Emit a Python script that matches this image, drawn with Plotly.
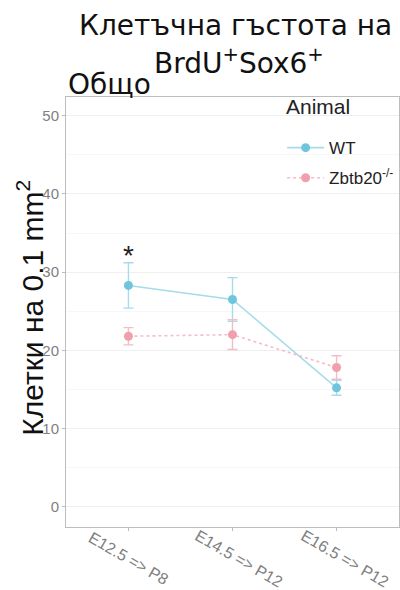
import plotly.graph_objects as go

categories = ["E12.5 => P8", "E14.5 => P12", "E16.5 => P12"]
wt_mean = [28.3, 26.5, 15.2]
wt_err = [2.9, 2.8, 0.95]
ko_mean = [21.8, 22.0, 17.8]
ko_err = [1.1, 1.9, 1.5]
y_ticks = [0, 10, 20, 30, 40, 50]
star_pos = (0, 32.1)

x = [1, 2, 3]
fig = go.Figure()

def add_series(mean, err, name, mcol, lcol, dash, grp):
    fig.add_trace(go.Scatter(
        x=x, y=mean, name=name, mode="lines+markers", legendgroup=grp,
        line=dict(color=lcol, width=1.6, dash=dash),
        marker=dict(color=mcol, size=9),
        error_y=dict(type="data", array=err, color=lcol, thickness=1.4, width=5),
    ))

add_series(wt_mean, wt_err, "WT", "#6fc6dc", "#a5dcea", "solid", "a")
add_series(ko_mean, ko_err, "Zbtb20<sup>-/-</sup>", "#f0a0ac", "#f5bcc5", "dot", "b")

fig.add_annotation(x=x[star_pos[0]], y=star_pos[1], text="*", showarrow=False,
                   font=dict(size=28, color="#222222", family="Liberation Sans"),
                   yanchor="middle")

title_font = dict(size=28, color="#111111", family="DejaVu Sans")
fig.add_annotation(xref="paper", yref="paper", x=0.509, y=1.167,
                   text="Клетъчна гъстота на", showarrow=False,
                   xanchor="center", yanchor="middle", font=title_font)
fig.add_annotation(xref="paper", yref="paper", x=0.52, y=1.083,
                   text="BrdU<sup>+</sup>Sox6<sup>+</sup>", showarrow=False,
                   xanchor="center", yanchor="middle", font=title_font)
fig.add_annotation(xref="paper", yref="paper", x=0.0, y=1.028,
                   text="Общо", showarrow=False, xanchor="left", yanchor="middle",
                   font=title_font)

fig.add_annotation(xref="paper", yref="paper", x=-0.108, y=0.51,
                   text="Клетки на 0.1 mm<sup>2</sup>", showarrow=False, textangle=-90,
                   xanchor="center", yanchor="middle",
                   font=dict(size=30, color="#111111", family="Liberation Sans"))

fig.add_annotation(xref="paper", yref="paper", x=0.655, y=0.977,
                   text="Animal", showarrow=False, xanchor="left", yanchor="middle",
                   font=dict(size=21, color="#222222", family="Liberation Sans"))

shifts = [0, 6, 8]
for xi, lab, s in zip(x, categories, shifts):
    fig.add_annotation(x=xi, xref="x", yref="paper", y=-0.073, text=lab,
                       showarrow=False, textangle=30, xanchor="center",
                       yanchor="middle", xshift=s,
                       font=dict(size=16, color="#808080", family="Liberation Sans"))

fig.update_layout(
    width=400, height=590,
    margin=dict(l=66, r=1, t=97, b=63, autoexpand=False),
    plot_bgcolor="white", paper_bgcolor="white",
    font=dict(family="Liberation Sans"),
    showlegend=True,
    legend=dict(
        x=0.649, y=0.923, xanchor="left", yanchor="top",
        bgcolor="rgba(0,0,0,0)", font=dict(size=17, color="#222222"),
        itemwidth=37, tracegroupgap=5,
    ),
    xaxis=dict(
        range=[0.4, 3.6], tickvals=x, ticktext=["", "", ""], automargin=False,
        showgrid=False, showline=True, linecolor="#bdbdbd", linewidth=1, mirror=True,
        ticks="outside", ticklen=3, tickcolor="#bdbdbd", zeroline=False,
    ),
    yaxis=dict(
        range=[-2.6, 52.4], tickvals=y_ticks, automargin=False,
        showgrid=True, gridcolor="#efefef", gridwidth=1,
        minor=dict(dtick=5, tick0=0, showgrid=True, gridcolor="#f7f7f7"),
        showline=True, linecolor="#bdbdbd", linewidth=1, mirror=True,
        ticks="outside", ticklen=3, tickcolor="#bdbdbd",
        tickfont=dict(size=15, color="#808080"), zeroline=False,
    ),
)

fig.write_html("out.html", config={"displayModeBar": False},
               post_script="document.body.style.margin='0px';")
